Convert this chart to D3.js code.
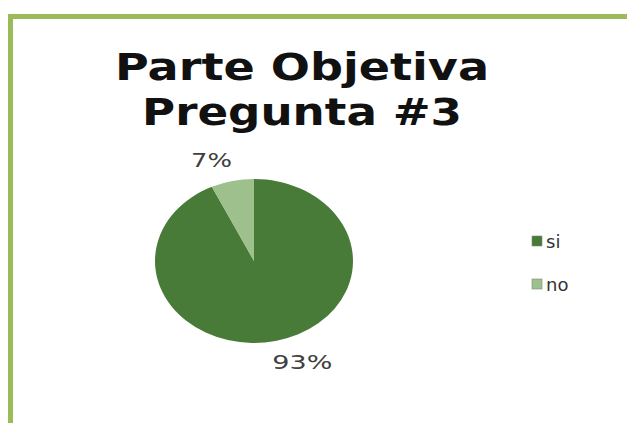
<!DOCTYPE html>
<html>
<head>
<meta charset="utf-8">
<script src="https://cdn.jsdelivr.net/npm/d3@7"></script>
<style>
html,body{margin:0;padding:0;background:#fff;}
svg{display:block;}
</style>
</head>
<body>
<svg id="chart" width="627" height="423"></svg>
<script>
// ---- data ----
const categories = ["si", "no"];
const values = [93, 7];
const labels = ["93%", "7%"];
const titleLines = ["Parte Objetiva", "Pregunta #3"];
const colors = ["#497b38", "#9ec08c"];

const svg = d3.select("#chart");
const W = 627, H = 423;

// frame (green border top + left)
svg.append("rect").attr("x", 8).attr("y", 14).attr("width", W - 8).attr("height", 5).attr("fill", "#9bbb59");
svg.append("rect").attr("x", 8).attr("y", 14).attr("width", 5).attr("height", H - 14).attr("fill", "#9bbb59");

// title
const titleLen = [374, 320];
const titleBase = [80, 125];
titleLines.forEach((t, i) => {
  svg.append("text")
    .attr("x", 302).attr("y", titleBase[i])
    .attr("text-anchor", "middle")
    .attr("font-family", "DejaVu Sans")
    .attr("font-weight", "bold")
    .attr("font-size", 37)
    .attr("fill", "#111")
    .attr("textLength", titleLen[i])
    .attr("lengthAdjust", "spacingAndGlyphs")
    .text(t);
});

// pie (elliptical, stretched horizontally)
const cx = 254, cy = 261, ry = 82, sx = 99 / 82;
const pie = d3.pie().sort(null).value(d => d)(values);
const arc = d3.arc().innerRadius(0).outerRadius(ry);
const g = svg.append("g").attr("transform", `translate(${cx},${cy}) scale(${sx},1)`);
g.selectAll("path").data(pie).join("path")
  .attr("d", arc)
  .attr("fill", (d, i) => colors[i]);

// data labels
const labelArc = d3.arc().innerRadius(104).outerRadius(104);
const labelDx = [21, -15];
const labelLen = [60, 41];
pie.forEach((d, i) => {
  const c = labelArc.centroid(d);
  svg.append("text")
    .attr("x", cx + c[0] * sx + labelDx[i])
    .attr("y", cy + c[1] + 7)
    .attr("text-anchor", "middle")
    .attr("font-family", "DejaVu Sans")
    .attr("font-size", 19)
    .attr("fill", "#404040")
    .attr("textLength", labelLen[i])
    .attr("lengthAdjust", "spacingAndGlyphs")
    .text(labels[i]);
});

// legend
const legY = d3.scalePoint().domain(categories).range([241, 284]);
const leg = svg.append("g");
categories.forEach((c, i) => {
  const y = legY(c);
  leg.append("rect").attr("x", 532).attr("y", y - 5).attr("width", 10).attr("height", 10)
    .attr("fill", colors[i]).attr("stroke", "#7a8a70").attr("stroke-width", 0.6);
  leg.append("text").attr("x", 546).attr("y", y + 6.5)
    .attr("font-family", "DejaVu Sans")
    .attr("font-size", 18)
    .attr("fill", "#333")
    .text(c);
});
</script>
</body>
</html>
